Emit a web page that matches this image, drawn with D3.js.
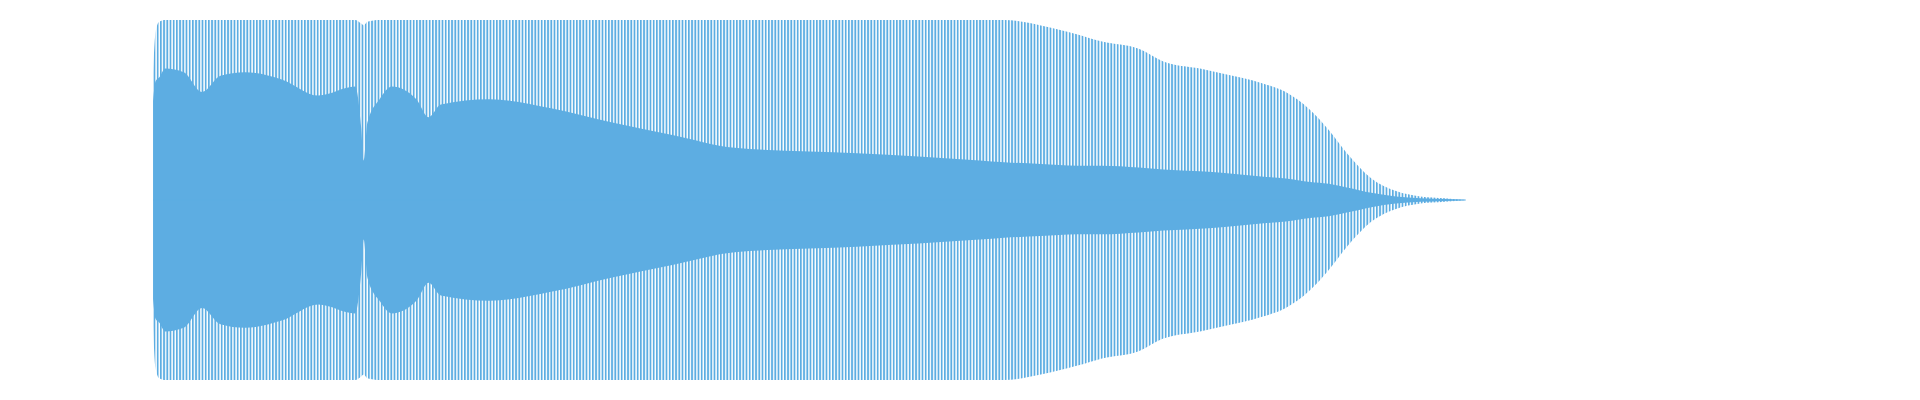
<!DOCTYPE html>
<html><head><meta charset="utf-8">
<script src="https://cdn.jsdelivr.net/npm/d3@7"></script>
<style>body{margin:0;background:#fff}</style></head>
<body><svg id="c" width="1920" height="400"></svg>
<script>
// time positions (arbitrary units along track)
const times =      [125,127,130,135,150,165,180,200,230,260,290,295,297,300,310,320,340,350,360,400,450,500,550,600,700,800,820,850,880,900,930,950,980,1000,1030,1050,1070,1085,1100,1120,1140,1160,1180,1197];
// outer peak amplitude (0..1)
const peakAmp =    [0.70,0.93,0.99,1.0,1.0,1.0,1.0,1.0,1.0,1.0,1.0,0.98,0.97,0.99,1.0,1.0,1.0,1.0,1.0,1.0,1.0,1.0,1.0,1.0,1.0,1.0,1.0,0.97,0.92,0.88,0.84,0.77,0.73,0.70,0.65,0.60,0.50,0.39,0.26,0.12,0.05,0.02,0.01,0.0];
// dense body amplitude (0..1)
const bodyAmp =    [0.55,0.66,0.68,0.73,0.71,0.60,0.69,0.71,0.67,0.58,0.63,0.40,0.22,0.43,0.56,0.63,0.56,0.46,0.53,0.56,0.51,0.43,0.36,0.29,0.26,0.22,0.21,0.20,0.19,0.19,0.18,0.17,0.16,0.15,0.13,0.12,0.10,0.09,0.07,0.04,0.02,0.01,0.005,0.0];
const data = times.map((t,i)=>({t,p:peakAmp[i],b:bodyAmp[i]}));
const svg = d3.select("#c");
const x = d3.scaleLinear().domain([0,1568]).range([0,1920]);
const y = d3.scaleLinear().domain([-1,1]).range([380,20]);
const col = "#5dade2";
const pat = svg.append("defs").append("pattern").attr("id","stripes")
  .attr("patternUnits","userSpaceOnUse").attr("width",3.2).attr("height",10);
pat.append("rect").attr("width",1.8).attr("height",10).attr("fill",col);
svg.append("path").datum(data)
  .attr("d", d3.area().x(d=>x(d.t)).y0(d=>y(-d.p)).y1(d=>y(d.p)).curve(d3.curveMonotoneX))
  .attr("fill","url(#stripes)");
svg.append("path").datum(data)
  .attr("d", d3.area().x(d=>x(d.t)).y0(d=>y(-d.b)).y1(d=>y(d.b)).curve(d3.curveMonotoneX))
  .attr("fill",col);
svg.append("line").attr("x1",x(125)).attr("x2",x(1197)).attr("y1",y(0)).attr("y2",y(0))
  .attr("stroke",col).attr("stroke-width",1);
</script></body></html>
